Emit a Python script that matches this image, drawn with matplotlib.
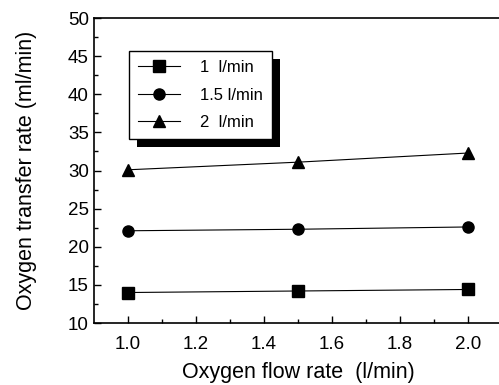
import numpy as np
import matplotlib.pyplot as plt
from matplotlib.patches import Rectangle

plt.rcParams['font.family'] = ['Liberation Sans', 'DejaVu Sans']

flow = [1.0, 1.5, 2.0]
rate_1 = [14.0, 14.2, 14.4]
rate_15 = [22.1, 22.3, 22.6]
rate_2 = [30.1, 31.1, 32.3]
labels = ["1  l/min", "1.5 l/min", "2  l/min"]

fig = plt.figure(figsize=(4.99, 3.85), dpi=100)
ax = fig.add_axes([0.188, 0.161, 0.818, 0.792])

kw = dict(color='black', lw=0.8, markersize=8)
ax.plot(flow, rate_1, '-s', label=labels[0], **kw)
ax.plot(flow, rate_15, '-o', label=labels[1], **kw)
ax.plot(flow, rate_2, '-^', label=labels[2], **kw)

ax.set_xlim(0.9, 2.1)
ax.set_ylim(10, 50)
ax.set_xticks(np.arange(1.0, 2.01, 0.2))
ax.set_xticks(np.arange(1.0, 2.01, 0.1), minor=True)
ax.set_yticks(np.arange(10, 51, 5))
ax.set_yticks(np.arange(10, 51, 2.5), minor=True)
ax.xaxis.set_major_formatter(plt.FormatStrFormatter('%.1f'))
ax.tick_params(direction='in', which='both', labelsize=13.5, width=1)
ax.tick_params(which='major', length=5)
ax.tick_params(which='minor', length=3)
ax.tick_params(axis='x', pad=9)
for s in ax.spines.values():
    s.set_linewidth(1.2)

ax.set_xlabel("Oxygen flow rate  (l/min)", fontsize=15.5, labelpad=7)
ax.set_ylabel("Oxygen transfer rate (ml/min)", fontsize=15.5, labelpad=22)

lgd = ax.legend(loc='upper left', bbox_to_anchor=(0.086, 0.892), borderaxespad=0,
                fontsize=12, handlelength=2.5, handletextpad=1.2, labelspacing=0.75,
                borderpad=0.55, fancybox=False, edgecolor='black', framealpha=1)
lgd.get_frame().set_linewidth(1.0)
lgd.set_zorder(5)

fig.canvas.draw()
bb = lgd.get_window_extent()
ax.add_patch(Rectangle((bb.x0 + 8, bb.y0 - 8), bb.width, bb.height, transform=None,
                       facecolor='black', edgecolor='none', zorder=4.5))

plt.savefig('out.png', dpi=100)
